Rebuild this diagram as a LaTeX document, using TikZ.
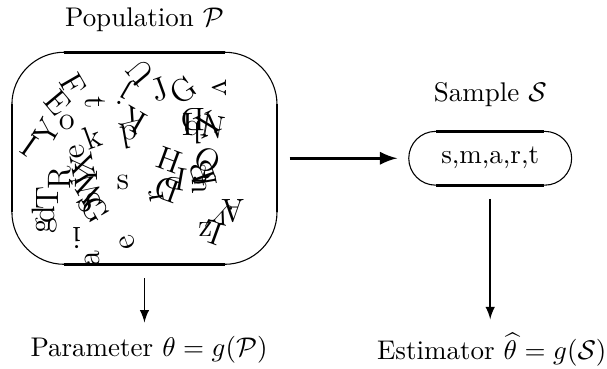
\documentclass[tikz,border=0pt]{standalone}
\usepackage{amsmath,amssymb}
\usetikzlibrary{arrows,calc,positioning}

\begin{document}
\begin{tikzpicture}[>=latex,
    box/.style={draw,thin,rounded corners=#1,outer sep=0pt},
    edge/.style={line width=1pt},
    ltr/.style={inner sep=0pt,font=\large}]
    \useasboundingbox (0,0) rectangle (7.9,4.8);
    % population
    \node[box=0.68cm,minimum width=3.45cm,minimum height=2.76cm] (pop) at (1.88,2.74) {};
    \draw[edge] ($(pop.north west)+(0.68,0)$) -- ($(pop.north east)+(-0.68,0)$);
    \draw[edge] ($(pop.south west)+(0.68,0)$) -- ($(pop.south east)+(-0.68,0)$);
    \draw[edge] ($(pop.north west)+(0,-0.68)$) -- ($(pop.south west)+(0,0.68)$);
    \draw[edge] ($(pop.north east)+(0,-0.68)$) -- ($(pop.south east)+(0,0.68)$);
    \node[above=1.4mm of pop] (poplbl) {Population $\mathcal{P}$};
    % scattered letters
    \foreach \x/\y/\a/\c [count=\i] in {
      1.83/3.86/130/U, 1.63/3.60/150/j, 2.08/3.63/20/J, 2.38/3.63/35/G,
      2.86/3.65/-90/v, 0.95/3.69/-60/F, 0.75/3.46/-50/E, 1.24/3.46/-90/t,
      0.87/3.21/0/o, 0.61/3.08/60/Y, 0.39/2.90/-35/I, 1.20/3.02/20/k,
      1.73/3.24/150/K, 1.69/3.02/-170/d, 1.01/2.82/100/e, 1.08/2.65/100/X,
      1.12/2.51/90/Y, 1.13/2.35/120/W, 1.17/2.17/120/S, 1.24/2.07/-60/G,
      0.78/2.48/90/R, 0.62/2.22/90/T, 0.57/2.01/90/d, 0.60/1.86/90/g,
      1.00/1.70/180/i, 1.66/1.65/110/e, 1.20/1.44/90/a, 1.60/2.43/0/s,
      2.21/2.72/-20/H, 2.29/2.48/170/P, 2.18/2.33/160/D, 2.03/2.25/100/r,
      2.63/2.56/110/B, 2.69/2.69/-30/Q, 2.60/2.38/90/u, 2.68/2.43/100/f,
      2.51/3.24/180/D, 2.51/3.08/180/b, 2.44/3.18/0/I, 2.78/3.15/-10/N,
      2.70/3.18/25/X, 3.03/2.05/180/A, 2.89/2.01/160/y, 2.77/1.78/160/L,
      2.67/1.81/180/z}
      \node[ltr,rotate=\a] (c\i) at (\x,\y) {\c};
    % sample
    \node[box=0.35cm,minimum width=2.12cm,minimum height=0.70cm] (smp) at (6.38,2.74) {s,m,a,r,t};
    \draw[edge] ($(smp.north west)+(0.36,0)$) -- ($(smp.north east)+(-0.36,0)$);
    \draw[edge] ($(smp.south west)+(0.36,0)$) -- ($(smp.south east)+(-0.36,0)$);
    \node[above=2mm of smp] (smplbl) {Sample $\mathcal{S}$};
    % quantities
    \node (par) at (1.94,0.25) {Parameter $\theta = g(\mathcal{P})$};
    \node (est) at (6.40,0.25) {Estimator $\widehat{\theta} = g(\mathcal{S})$};
    % arrows
    \draw[->,very thick,shorten <=0.165cm,shorten >=0.15cm] (pop) -- (smp);
    \draw[->,semithick,shorten <=0.18cm,shorten >=1.5pt] (pop.south) -- (pop.south |- par.north);
    \draw[->,semithick,shorten <=0.18cm,shorten >=1.5pt] (smp.south) -- (smp.south |- est.north);
\end{tikzpicture}
\end{document}
